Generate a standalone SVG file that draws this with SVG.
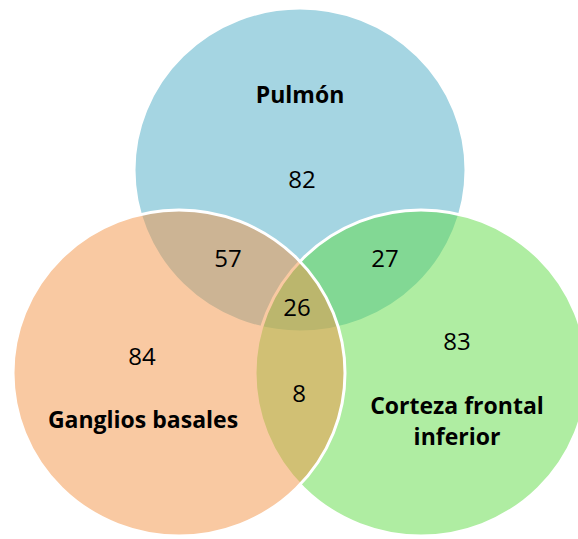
<svg xmlns="http://www.w3.org/2000/svg" width="578" height="539" viewBox="0 0 578 539">
<style>
.set{stroke:#ffffff;stroke-width:3;fill-opacity:0.5}
.lbl{font-family:"Open Sans","Liberation Sans",sans-serif;font-weight:bold;font-size:23px;fill:#000;text-anchor:middle}
.num{font-family:"Open Sans","Liberation Sans",sans-serif;font-size:24px;fill:#000;text-anchor:middle}
</style>
<rect width="578" height="539" fill="#ffffff"/>
<g id="pulmon">
<ellipse class="set" cx="300" cy="170" rx="166" ry="162" fill="#4BACC6"/>
<text class="lbl" x="300" y="103">Pulmón</text>
</g>
<g id="corteza">
<ellipse class="set" cx="421" cy="373" rx="166" ry="163" fill="#5FDC45"/>
<text class="lbl" x="457" y="414">Corteza frontal</text>
<text class="lbl" x="457" y="445">inferior</text>
</g>
<g id="ganglios">
<ellipse class="set" cx="179" cy="373" rx="166" ry="163" fill="#F39345"/>
<text class="lbl" x="143" y="428">Ganglios basales</text>
</g>
<g id="counts">
<text class="num" x="302" y="188">82</text>
<text class="num" x="228" y="267">57</text>
<text class="num" x="385" y="267">27</text>
<text class="num" x="297" y="316">26</text>
<text class="num" x="142" y="365">84</text>
<text class="num" x="457" y="350">83</text>
<text class="num" x="299" y="402">8</text>
</g>
</svg>
